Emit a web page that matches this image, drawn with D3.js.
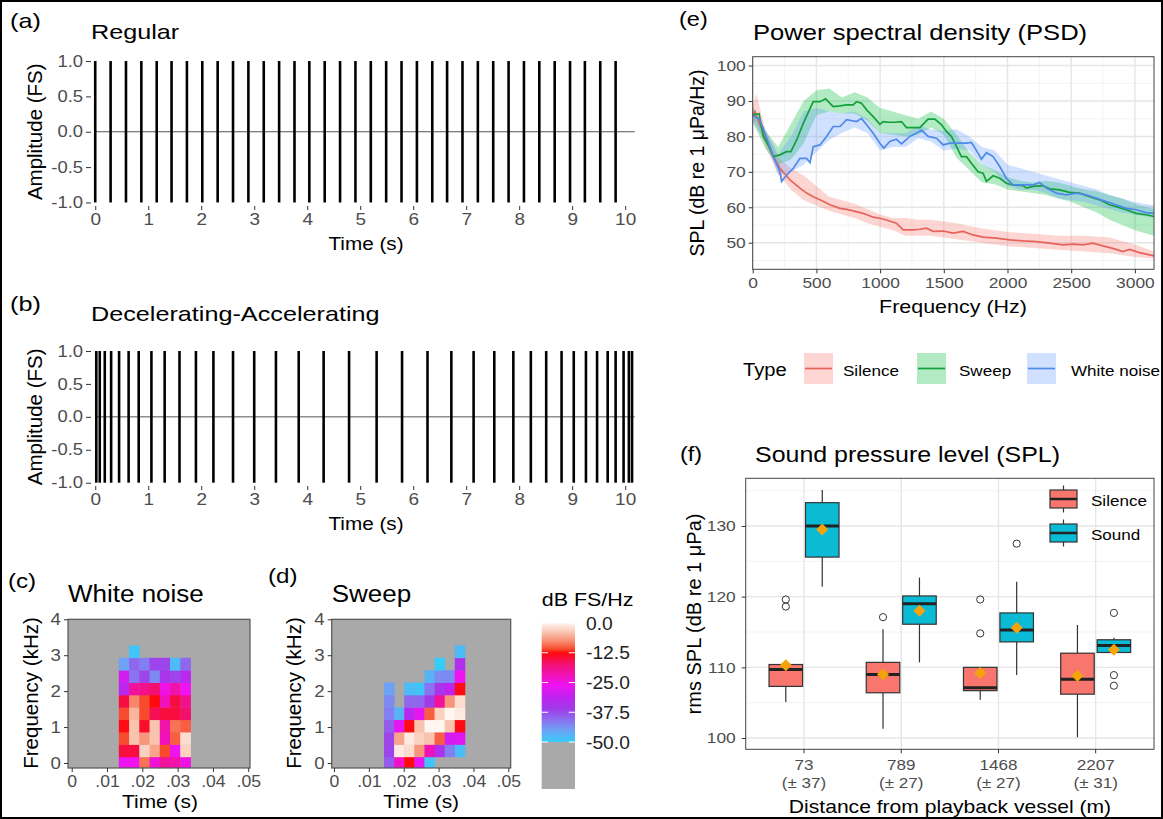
<!DOCTYPE html>
<html>
<head>
<meta charset="utf-8">
<script src="https://cdn.jsdelivr.net/npm/d3@7"></script>
<style>
  body { margin: 0; background: #fff; }
  svg { display: block; }
</style>
</head>
<body>
<svg id="fig" width="1163" height="819"></svg>
<script>
// ---------- (a), (b) pulse trains ----------
const timeTicks = [0, 1, 2, 3, 4, 5, 6, 7, 8, 9, 10];
const ampTicks = [-1, -0.5, 0, 0.5, 1];
const regularPulses = [0, 0.29, 0.58, 0.87, 1.16, 1.44, 1.73, 2.02, 2.31, 2.60, 2.89, 3.18,
  3.47, 3.76, 4.04, 4.33, 4.62, 4.91, 5.20, 5.49, 5.78, 6.07, 6.36, 6.64, 6.93, 7.22, 7.51,
  7.80, 8.09, 8.38, 8.67, 8.96, 9.24, 9.53, 9.82];
const decelAccelPulses = [0.02, 0.085, 0.18, 0.30, 0.45, 0.63, 0.82, 1.06, 1.31, 1.59, 1.90,
  2.23, 2.60, 3.00, 3.41, 3.84, 4.31, 4.79, 5.31, 5.79, 6.27, 6.72, 7.14, 7.53, 7.89, 8.22,
  8.51, 8.80, 9.03, 9.26, 9.47, 9.67, 9.82, 9.97, 10.07, 10.13];

// ---------- (c), (d) spectrograms ----------
const specTimeTicks = [0, 0.01, 0.02, 0.03, 0.04, 0.05];
const specTimeLabels = ["0", ".01", ".02", ".03", ".04", ".05"];
const specFreqTicks = [0, 1, 2, 3, 4];
const specFreqBins = [0, 0.345, 0.689, 1.034, 1.378, 1.723, 2.067, 2.412, 2.756, 3.101]; // kHz
const specBinHeight = 0.345;
const specBinWidth = 0.0029;
// levels per time column, bottom row first (dB FS/Hz, null = below -50)
const wnTimes = [0.0148, 0.0177, 0.0206, 0.0235, 0.0264, 0.0293, 0.0322];
const wnLevels = [
  [-26, -15, -11, -13, -11, -15, -32, -29, -45, null],
  [-26, -15, -4, -4, -5, -8, -20, -41, -40, -49],
  [-9, -3, -7, -14, -11, -11, -19, -37, -42, null],
  [-24, -6, -4, -4, -16, -12.5, -17, -43, -37, null],
  [-20, -11, -22, -21, -15, -22, -25, -35, -37, null],
  [-21, -26, -10, -9, -15, -15, -21, -37, -48, null],
  [-25, -3, -2, -10, -17, -19, -26, -32, -40, null]
];
const swTimes = [0.0158, 0.0187, 0.0216, 0.0245, 0.0274, 0.0303, 0.0332, 0.0361];
const swLevels = [
  [-39, -37, -37, -39, -42, -43, -45, null, null, null],
  [-23, -1, -6, -27, -47, null, null, null, null, null],
  [-12.5, -2, -1, -13, -32, -40, -48, null, null, null],
  [-27, -7, -3, -4, -27, -40, -49, null, null, null],
  [-49, -22, -4, 0, -10, -36, -41, -47, null, null],
  [null, -34, -10, 0, -3, -20, -35, -43, -50, null],
  [null, -42, -29, -4, 0, -7, -31, -43, null, null],
  [null, -48, -28, -13, -1, -2, -13, -26, -34, -48]
];
const dbStops = [0, -4, -8, -11, -12.5, -17, -22, -26, -31, -36, -41, -45, -50];
const dbColours = ["#fff6f2", "#f9c4ae", "#f8866a", "#f84a2c", "#ff0a0a", "#f3106c", "#f012b8",
  "#f012f0", "#c022f0", "#a23ae8", "#8a72f0", "#6ea2f4", "#36ccf8"];
const dbTicks = [0, -12.5, -25, -37.5, -50];

// ---------- (e) PSD ----------
const psdFreqTicks = [0, 500, 1000, 1500, 2000, 2500, 3000];
const psdLevelTicks = [50, 60, 70, 80, 90, 100];
const psdTypes = ["Silence", "Sweep", "White noise"];
const silenceFreq = [0, 18, 57, 110, 162, 214, 293, 371, 423, 475, 528, 606, 685, 737, 789, 867,
  946, 998, 1050, 1128, 1181, 1259, 1312, 1364, 1416, 1495, 1573, 1651, 1730, 1808, 1913, 2017,
  2122, 2226, 2331, 2435, 2514, 2592, 2670, 2749, 2827, 2906, 2958, 3036, 3150];
const silenceMean = [86, 87, 83.3, 79, 74.3, 71, 67.7, 65.4, 64, 63, 62.1, 60.7, 59.7, 59.4, 59,
  58.3, 57.2, 56.9, 56.4, 55.5, 53.6, 53.6, 53.8, 54.1, 53.2, 53.3, 52.7, 53.2, 52.2, 51.6, 51.3,
  50.8, 50.5, 50.3, 49.9, 49.4, 49.6, 49.4, 49.9, 49.1, 48.4, 47.5, 48.1, 47.2, 46.3];
const silenceBandFreq = [0, 30, 100, 200, 300, 400, 500, 600, 700, 800, 900, 1000, 1100, 1200,
  1300, 1400, 1500, 1600, 1800, 2000, 2200, 2400, 2600, 2800, 3000, 3150];
const silenceLo = [84, 84, 77, 69.5, 65, 62, 60.5, 59, 58, 57, 55.5, 54.5, 53.5, 52, 52, 52,
  51.5, 51, 50, 49, 48.5, 48, 47.5, 47, 46, 45.5];
const silenceHi = [89, 92, 81.5, 74, 71, 69, 66, 63, 62, 61, 59.5, 58, 57, 57, 56.5, 56.5, 56,
  55.5, 54, 53, 52.5, 52, 52, 51.5, 49.5, 47.5];

const sweepFreq = [0, 50, 84, 130, 162, 214, 266, 300, 345, 397, 475, 528, 572, 632, 685, 737,
  789, 815, 854, 894, 946, 998, 1024, 1063, 1115, 1168, 1207, 1259, 1312, 1377, 1430, 1482,
  1521, 1560, 1600, 1638, 1678, 1717, 1769, 1808, 1835, 1887, 1939, 1991, 2043, 2122, 2148,
  2200, 2278, 2331, 2409, 2487, 2566, 2644, 2723, 2801, 2853, 2932, 3010, 3089, 3150];
const sweepMean = [86.1, 86.4, 80, 77, 74.3, 74.8, 75.7, 75.7, 79, 83.7, 89.8, 89.8, 90.6, 88.4,
  88.6, 88.9, 88.9, 89.8, 89.4, 87.5, 85.6, 83.4, 84.2, 84, 84, 84.2, 82.5, 82.5, 82.5, 84.9,
  84.9, 83.3, 81.4, 80, 77.1, 74.3, 74.3, 72.4, 70, 69.6, 67.3, 68.9, 68.2, 66.8, 66.3, 66.1,
  65.4, 65.9, 66.1, 65.2, 64.9, 64.2, 64, 63, 62.1, 60.7, 60.2, 59.3, 58.3, 57.9, 57.4];
const bandFreq = [0, 100, 200, 300, 400, 500, 600, 700, 800, 900, 1000, 1100, 1200, 1300, 1400,
  1500, 1600, 1700, 1800, 1900, 2000, 2100, 2200, 2300, 2400, 2500, 2600, 2700, 2800, 2900,
  3000, 3150];
const sweepLo = [84, 76.5, 72, 73.5, 78, 86, 87, 86.5, 86.5, 84.5, 81, 80.5, 80, 80.5, 82.5,
  80.5, 74, 70.5, 67, 66.5, 65, 64.5, 64, 63.5, 62.5, 61.5, 60, 58.5, 56.5, 55, 53.5, 52];
const sweepHi = [88.5, 81.5, 77, 83.5, 90, 93, 93.5, 91, 92.5, 91, 88, 87, 86, 85, 87, 85, 80.5,
  75.5, 72, 70.5, 68.5, 67.5, 67, 67.5, 67, 66, 65, 64.5, 63.5, 62.5, 61, 59.5];

const noiseFreq = [0, 57, 110, 162, 214, 227, 266, 319, 371, 423, 450, 475, 528, 580, 632, 685,
  737, 815, 854, 894, 946, 998, 1029, 1076, 1128, 1168, 1233, 1285, 1325, 1377, 1443, 1495,
  1547, 1600, 1678, 1717, 1769, 1795, 1835, 1887, 1939, 1991, 2043, 2122, 2200, 2252, 2305,
  2383, 2461, 2540, 2618, 2696, 2775, 2853, 2932, 3010, 3089, 3150];
const noiseMean = [86, 84.7, 79.5, 74.3, 70, 67.3, 69.1, 71, 73.8, 73.8, 72.6, 77.1, 77.6, 80,
  82.8, 82.8, 84.7, 84.2, 85.1, 83.3, 80.9, 78.1, 76.7, 78.6, 79.2, 77.9, 80, 80.9, 81.8, 80,
  79.5, 77.6, 78.1, 78.1, 78.1, 78.3, 75.3, 73.6, 75.4, 74.3, 71.5, 68.2, 66.3, 66.3, 66.3, 67,
  65.4, 64, 63.5, 64, 63.5, 62.6, 61.6, 60.7, 59.7, 59.3, 58.5, 58.3];
const noiseLo = [84, 78.5, 69, 70, 72, 75.5, 79, 81, 82.5, 81, 76, 77, 77, 79.5, 78.5, 76, 76.5,
  76, 72, 70, 66, 65, 65, 64, 62.5, 62, 61.5, 60.5, 59.5, 58.5, 58, 57];
const noiseHi = [88, 82, 75, 80, 87, 88, 87, 86.5, 87, 85, 81, 81, 81, 83, 82, 81.5, 82, 80, 77,
  76, 72, 71, 70, 69, 68, 67, 66, 65, 63.5, 62.5, 61.5, 60.5];

// ---------- (f) SPL boxplots ----------
const distCats = ["73", "789", "1468", "2207"];
const distSd = ["(\u00b1 37)", "(\u00b1 27)", "(\u00b1 27)", "(\u00b1 31)"];
const splTicks = [100, 110, 120, 130];
const silenceLowW = [105.1, 101.3, 105.4, 100.1];
const silenceQ1 = [107.3, 106.4, 106.7, 106.2];
const silenceMed = [109.7, 109.0, 107.1, 108.3];
const silenceQ3 = [110.4, 110.7, 110.0, 112.0];
const silenceHighW = [110.4, 115.4, 110.0, 116.0];
const silenceAvg = [110.3, 109.0, 109.2, 108.8];
const silenceOut = [[118.6, 119.6], [117.1], [114.8, 119.6], []];
const soundLowW = [121.4, 110.7, 108.9, 112.1];
const soundQ1 = [125.6, 116.1, 113.6, 112.1];
const soundMed = [130.0, 119.0, 115.3, 113.1];
const soundQ3 = [133.3, 120.1, 117.7, 113.9];
const soundHighW = [135.1, 122.7, 122.1, 114.2];
const soundAvg = [129.5, 118.0, 115.6, 112.5];
const soundOut = [[], [], [127.5], [117.7, 108.9, 107.4]];

// ======================================================
const FONT = '"Liberation Sans", Arial, Helvetica, sans-serif';
const svg = d3.select("#fig").attr("font-family", FONT);

svg.append("rect")
  .attr("x", 1).attr("y", 1).attr("width", 1161).attr("height", 817)
  .attr("fill", "#fff").attr("stroke", "#000").attr("stroke-width", 2);

// the source figure is a little wider than tall, so horizontal text is stretched
function stretch(sel, sx) {
  sel.each(function () {
    const w = this.getComputedTextLength();
    if (w > 0) d3.select(this).attr("textLength", w * sx).attr("lengthAdjust", "spacingAndGlyphs");
  });
}

function addText(g, x, y, s, size, o = {}) {
  const t = g.append("text")
    .attr("x", x).attr("y", y)
    .attr("font-size", size)
    .attr("fill", o.fill || "#000")
    .text(s);
  if (o.anchor) t.attr("text-anchor", o.anchor);
  if (o.rotate) t.attr("transform", `rotate(-90,${x},${y})`);
  if (o.sx) stretch(t, o.sx);
  return t;
}

function tidyAxis(g, size, sx = 1.1) {
  g.attr("font-family", null).attr("font-size", null);
  g.select(".domain").remove();
  g.selectAll(".tick line").attr("stroke", "#333");
  g.selectAll(".tick text").attr("fill", "#4d4d4d").attr("font-size", size);
  if (sx !== 1) stretch(g.selectAll(".tick text"), sx);
}

const fmt1 = v => d3.format(".1f")(v).replace("\u2212", "-");

// ---------- pulse panels ----------
function pulsePanel(o) {
  const g = svg.append("g");
  const x = d3.scaleLinear().domain([-0.08, 10.18]).range([91, 634.7]);
  const y = d3.scaleLinear().domain([-1.05, 1.05]).range([o.bottom, o.top]);

  g.append("line")
    .attr("x1", x(0)).attr("x2", x(10.18))
    .attr("y1", y(0)).attr("y2", y(0))
    .attr("stroke", "#555").attr("stroke-width", 1);

  g.selectAll("line.pulse")
    .data(o.pulses)
    .join("line")
    .attr("class", "pulse")
    .attr("x1", d => x(d)).attr("x2", d => x(d))
    .attr("y1", y(-1)).attr("y2", y(1))
    .attr("stroke", "#000").attr("stroke-width", 2.6);

  g.append("g")
    .attr("transform", "translate(91,0)")
    .call(d3.axisLeft(y).tickValues(ampTicks).tickSize(5).tickPadding(3).tickFormat(fmt1))
    .call(tidyAxis, 16, 1.15);

  g.append("g")
    .attr("transform", `translate(0,${o.bottom})`)
    .call(d3.axisBottom(x).tickValues(timeTicks).tickSize(4).tickPadding(3).tickFormat(d3.format("d")))
    .call(tidyAxis, 16.5, 1.15);

  addText(g, 10, o.tagY, o.tag, 21, { sx: 1.2 });
  addText(g, 91, o.titleY, o.title, 21, { sx: 1.2 });
  addText(g, 366, o.xTitleY, "Time (s)", 18, { anchor: "middle", sx: 1.15 });
  addText(g, 42, (o.top + o.bottom) / 2, "Amplitude (FS)", 20.5, { anchor: "middle", rotate: true });
}

pulsePanel({ tag: "(a)", title: "Regular", pulses: regularPulses, top: 57.5, bottom: 206,
  tagY: 28, titleY: 39, xTitleY: 250 });
pulsePanel({ tag: "(b)", title: "Decelerating-Accelerating", pulses: decelAccelPulses, top: 347.7, bottom: 486,
  tagY: 311, titleY: 321, xTitleY: 530 });

// ---------- spectrogram panels ----------
const dbColour = d3.scaleLinear().domain(dbStops).range(dbColours)
  .interpolate(d3.interpolateRgb).clamp(true);

function specPanel(o) {
  const g = svg.append("g");
  const x = d3.scaleLinear().domain(o.xDomain).range(o.xRange);
  const y = d3.scaleLinear().domain([-0.14, 4]).range([768, 619.3]);
  const [x0, x1] = o.xRange;

  const clipId = "clip-" + o.tag.replace(/\W/g, "");
  g.append("clipPath").attr("id", clipId)
    .append("rect").attr("x", x0).attr("y", 619.3).attr("width", x1 - x0).attr("height", 768 - 619.3);

  g.append("rect")
    .attr("x", x0).attr("y", 619.3).attr("width", x1 - x0).attr("height", 768 - 619.3)
    .attr("fill", "#a9a9a9");

  const cells = [];
  o.times.forEach((t, i) => {
    o.levels[i].forEach((v, j) => {
      if (v !== null) cells.push({ t, f: specFreqBins[j], v });
    });
  });

  g.append("g").attr("clip-path", `url(#${clipId})`)
    .selectAll("rect")
    .data(cells)
    .join("rect")
    .attr("x", d => x(d.t - specBinWidth / 2))
    .attr("width", d => x(d.t + specBinWidth / 2) - x(d.t - specBinWidth / 2) + 0.4)
    .attr("y", d => y(d.f + specBinHeight / 2))
    .attr("height", d => y(d.f - specBinHeight / 2) - y(d.f + specBinHeight / 2) + 0.4)
    .attr("fill", d => dbColour(d.v));

  g.append("rect")
    .attr("x", x0).attr("y", 619.3).attr("width", x1 - x0).attr("height", 768 - 619.3)
    .attr("fill", "none").attr("stroke", "#555").attr("stroke-width", 1.2);

  g.append("g")
    .attr("transform", `translate(${x0},0)`)
    .call(d3.axisLeft(y).tickValues(specFreqTicks).tickSize(4).tickPadding(3).tickFormat(d3.format("d")))
    .call(tidyAxis, 17, 1.1);

  g.append("g")
    .attr("transform", "translate(0,768)")
    .call(d3.axisBottom(x).tickValues(specTimeTicks).tickSize(4).tickPadding(4)
      .tickFormat((d, i) => specTimeLabels[i]))
    .call(tidyAxis, 16, 1.1);

  addText(g, o.tagX, o.tagY, o.tag, 21, { sx: 1.15 });
  addText(g, x0, 602, o.title, 23, { sx: 1.13 });
  addText(g, (x(0) + x(0.05)) / 2, 808, "Time (s)", 19, { anchor: "middle", sx: 1.1 });
  addText(g, o.yTitleX, 693, "Frequency (kHz)", 20.5, { anchor: "middle", rotate: true });
}

specPanel({ tag: "(c)", title: "White noise", times: wnTimes, levels: wnLevels,
  xDomain: [-0.00105, 0.0505], xRange: [68, 250], tagX: 8, tagY: 588, yTitleX: 38 });
specPanel({ tag: "(d)", title: "Sweep", times: swTimes, levels: swLevels,
  xDomain: [-0.00066, 0.05069], xRange: [331.7, 510.7], tagX: 268, tagY: 583, yTitleX: 301 });

// colour bar
{
  const g = svg.append("g");
  const cb = d3.scaleLinear().domain([-50, 0]).range([742, 623]);
  const grad = svg.append("defs").append("linearGradient")
    .attr("id", "dbgrad").attr("x1", 0).attr("y1", 1).attr("x2", 0).attr("y2", 0);
  grad.selectAll("stop")
    .data(dbStops.slice().reverse())
    .join("stop")
    .attr("offset", d => (d + 50) / 50)
    .attr("stop-color", d => dbColour(d));

  g.append("rect").attr("x", 541.7).attr("y", 742).attr("width", 33.3).attr("height", 47)
    .attr("fill", "#a9a9a9");
  g.append("rect").attr("x", 541.7).attr("y", cb(0)).attr("width", 33.3).attr("height", cb(-50) - cb(0))
    .attr("fill", "url(#dbgrad)");

  g.selectAll("line.cbl").data(dbTicks).join("line").attr("class", "cbl")
    .attr("x1", 541.7).attr("x2", 548).attr("y1", d => cb(d)).attr("y2", d => cb(d))
    .attr("stroke", "#fff").attr("stroke-width", 1);
  g.selectAll("line.cbr").data(dbTicks).join("line").attr("class", "cbr")
    .attr("x1", 568.7).attr("x2", 575).attr("y1", d => cb(d)).attr("y2", d => cb(d))
    .attr("stroke", "#fff").attr("stroke-width", 1);

  const labels = g.selectAll("text.cbt").data(dbTicks).join("text").attr("class", "cbt")
    .attr("x", 586).attr("y", d => cb(d) + 6.5)
    .attr("font-size", 17.5).attr("fill", "#222")
    .text(fmt1);
  stretch(labels, 1.1);

  addText(g, 541.7, 606, "dB FS/Hz", 19, { sx: 1.13 });
}

// ---------- (e) PSD ----------
function gridLines(g, x, y, xMajor, xMinor, yMajor, yMinor) {
  const [x0, x1] = x.range();
  const [y0, y1] = y.range();
  g.selectAll("line.ym").data(yMinor).join("line").attr("class", "ym")
    .attr("x1", x0).attr("x2", x1).attr("y1", d => y(d)).attr("y2", d => y(d))
    .attr("stroke", "#f0f0f0").attr("stroke-width", 0.8);
  g.selectAll("line.xm").data(xMinor).join("line").attr("class", "xm")
    .attr("y1", y0).attr("y2", y1).attr("x1", d => x(d)).attr("x2", d => x(d))
    .attr("stroke", "#f0f0f0").attr("stroke-width", 0.8);
  g.selectAll("line.yM").data(yMajor).join("line").attr("class", "yM")
    .attr("x1", x0).attr("x2", x1).attr("y1", d => y(d)).attr("y2", d => y(d))
    .attr("stroke", "#e6e6e6").attr("stroke-width", 1.4);
  g.selectAll("line.xM").data(xMajor).join("line").attr("class", "xM")
    .attr("y1", y0).attr("y2", y1).attr("x1", d => x(d)).attr("x2", d => x(d))
    .attr("stroke", "#e6e6e6").attr("stroke-width", 1.4);
}

{
  const g = svg.append("g");
  const x = d3.scaleLinear().domain([0, 3150]).range([752.7, 1154]);
  const y = d3.scaleLinear().domain([42.5, 102.5]).range([269.3, 56.7]);
  const colours = { Silence: "#F8766D", Sweep: "#00BA38", "White noise": "#619CFF" };
  const lineColours = { Silence: "#e5635a", Sweep: "#13a03a", "White noise": "#4f8ae8" };

  gridLines(g, x, y, psdFreqTicks, psdFreqTicks.slice(0, -1).map(d => d + 250),
    psdLevelTicks, psdLevelTicks.map(d => d - 5));

  g.append("clipPath").attr("id", "clip-e")
    .append("rect").attr("x", 752.7).attr("y", 56.7).attr("width", 1154 - 752.7).attr("height", 269.3 - 56.7);
  const plot = g.append("g").attr("clip-path", "url(#clip-e)");

  const series = [
    { type: "Silence", freq: silenceFreq, mean: silenceMean, bf: silenceBandFreq, lo: silenceLo, hi: silenceHi },
    { type: "Sweep", freq: sweepFreq, mean: sweepMean, bf: bandFreq, lo: sweepLo, hi: sweepHi },
    { type: "White noise", freq: noiseFreq, mean: noiseMean, bf: bandFreq, lo: noiseLo, hi: noiseHi }
  ];

  const area = d3.area().x(d => x(d[0])).y0(d => y(d[1])).y1(d => y(d[2]));
  const line = d3.line().x(d => x(d[0])).y(d => y(d[1]));

  series.forEach(s => {
    plot.append("path")
      .datum(s.bf.map((f, i) => [f, s.lo[i], s.hi[i]]))
      .attr("d", area)
      .attr("fill", colours[s.type]).attr("fill-opacity", 0.3);
  });
  series.forEach(s => {
    plot.append("path")
      .datum(s.freq.map((f, i) => [f, s.mean[i]]))
      .attr("d", line)
      .attr("fill", "none").attr("stroke", lineColours[s.type]).attr("stroke-width", 1.7);
  });

  g.append("rect").attr("x", 752.7).attr("y", 56.7).attr("width", 1154 - 752.7).attr("height", 269.3 - 56.7)
    .attr("fill", "none").attr("stroke", "#444").attr("stroke-width", 1);

  g.append("g").attr("transform", "translate(752.7,0)")
    .call(d3.axisLeft(y).tickValues(psdLevelTicks).tickSize(4).tickPadding(3))
    .call(tidyAxis, 15.5, 1.12);
  g.append("g").attr("transform", "translate(0,269.3)")
    .call(d3.axisBottom(x).tickValues(psdFreqTicks).tickSize(4).tickPadding(4).tickFormat(d3.format("d")))
    .call(tidyAxis, 15.5, 1.12);

  addText(g, 679, 26, "(e)", 21, { sx: 1.12 });
  addText(g, 753, 40, "Power spectral density (PSD)", 21.5, { sx: 1.19 });
  addText(g, 953, 313, "Frequency (Hz)", 19, { anchor: "middle", sx: 1.13 });
  addText(g, 704, 163, "SPL (dB re 1 \u03bcPa/Hz)", 19.5, { anchor: "middle", rotate: true });

  // legend
  const keyX = [804, 917, 1027];
  const labelX = [843, 959, 1071];
  addText(g, 743, 376, "Type", 18, { sx: 1.12 });
  psdTypes.forEach((t, i) => {
    g.append("rect").attr("x", keyX[i]).attr("y", 353).attr("width", 29).attr("height", 31)
      .attr("fill", colours[t]).attr("fill-opacity", 0.3);
    g.append("line").attr("x1", keyX[i] + 1).attr("x2", keyX[i] + 28).attr("y1", 368.5).attr("y2", 368.5)
      .attr("stroke", lineColours[t]).attr("stroke-width", 1.7);
    addText(g, labelX[i], 376, t, 15.5, { sx: 1.1 });
  });
}

// ---------- (f) SPL ----------
{
  const g = svg.append("g");
  const x = d3.scaleBand().domain(distCats).range([745.7, 1154]).paddingInner(0).paddingOuter(0.1);
  const y = d3.scaleLinear().domain([98.4, 136.75]).range([749.3, 478.3]);
  const step = x.step();
  const cx = c => x(c) + x.bandwidth() / 2;

  // grid
  const yMinor = splTicks.map(d => d + 5);
  g.selectAll("line.ym").data(yMinor).join("line").attr("class", "ym")
    .attr("x1", 745.7).attr("x2", 1154).attr("y1", d => y(d)).attr("y2", d => y(d))
    .attr("stroke", "#f0f0f0").attr("stroke-width", 0.8);
  g.selectAll("line.yM").data(splTicks).join("line").attr("class", "yM")
    .attr("x1", 745.7).attr("x2", 1154).attr("y1", d => y(d)).attr("y2", d => y(d))
    .attr("stroke", "#e6e6e6").attr("stroke-width", 1.4);
  g.selectAll("line.xM").data(distCats).join("line").attr("class", "xM")
    .attr("x1", d => cx(d)).attr("x2", d => cx(d)).attr("y1", 478.3).attr("y2", 749.3)
    .attr("stroke", "#e6e6e6").attr("stroke-width", 1.4);

  const groups = [
    { name: "Silence", dx: -0.1875, fill: "#F8766D", lw: silenceLowW, q1: silenceQ1, med: silenceMed,
      q3: silenceQ3, hw: silenceHighW, avg: silenceAvg, out: silenceOut },
    { name: "Sound", dx: 0.1875, fill: "#0bbbd6", lw: soundLowW, q1: soundQ1, med: soundMed,
      q3: soundQ3, hw: soundHighW, avg: soundAvg, out: soundOut }
  ];
  const boxW = 0.345 * step;

  groups.forEach(gr => {
    distCats.forEach((c, i) => {
      const bx = cx(c) + gr.dx * step;
      g.append("line").attr("x1", bx).attr("x2", bx)
        .attr("y1", y(gr.hw[i])).attr("y2", y(gr.q3[i]))
        .attr("stroke", "#333").attr("stroke-width", 1.2);
      g.append("line").attr("x1", bx).attr("x2", bx)
        .attr("y1", y(gr.q1[i])).attr("y2", y(gr.lw[i]))
        .attr("stroke", "#333").attr("stroke-width", 1.2);
      g.append("rect")
        .attr("x", bx - boxW / 2).attr("width", boxW)
        .attr("y", y(gr.q3[i])).attr("height", y(gr.q1[i]) - y(gr.q3[i]))
        .attr("fill", gr.fill).attr("stroke", "#333").attr("stroke-width", 1.2);
      g.append("line").attr("x1", bx - boxW / 2).attr("x2", bx + boxW / 2)
        .attr("y1", y(gr.med[i])).attr("y2", y(gr.med[i]))
        .attr("stroke", "#222").attr("stroke-width", 3);
      g.selectAll(null).data(gr.out[i]).join("circle")
        .attr("cx", bx).attr("cy", d => y(d)).attr("r", 3.6)
        .attr("fill", "none").attr("stroke", "#333").attr("stroke-width", 1);
    });
  });
  groups.forEach(gr => {
    distCats.forEach((c, i) => {
      const bx = cx(c) + gr.dx * step;
      const my = y(gr.avg[i]);
      g.append("path")
        .attr("d", `M${bx},${my - 6}L${bx + 6},${my}L${bx},${my + 6}L${bx - 6},${my}Z`)
        .attr("fill", "#f5a30c");
    });
  });

  g.append("rect").attr("x", 745.7).attr("y", 478.3).attr("width", 1154 - 745.7).attr("height", 749.3 - 478.3)
    .attr("fill", "none").attr("stroke", "#444").attr("stroke-width", 1);

  g.append("g").attr("transform", "translate(745.7,0)")
    .call(d3.axisLeft(y).tickValues(splTicks).tickSize(4).tickPadding(6))
    .call(tidyAxis, 15.5, 1.12);

  const xa = g.append("g").attr("transform", "translate(0,749.3)")
    .call(d3.axisBottom(x).tickSize(4).tickPadding(6))
    .call(tidyAxis, 15.5, 1);
  xa.selectAll(".tick text").each(function (d, i) {
    const t = d3.select(this).text(null);
    t.append("tspan").attr("x", 0).text(d);
    t.append("tspan").attr("x", 0).attr("dy", "1.15em").text(distSd[i]);
  });
  stretch(xa.selectAll(".tick tspan"), 1.1);

  addText(g, 680, 461, "(f)", 21, { sx: 1.12 });
  addText(g, 755, 462, "Sound pressure level (SPL)", 21.5, { sx: 1.16 });
  addText(g, 950, 813, "Distance from playback vessel (m)", 19, { anchor: "middle", sx: 1.11 });
  addText(g, 701, 614, "rms SPL (dB re 1 \u03bcPa)", 20, { anchor: "middle", rotate: true });

  // legend
  const legY = [499, 533];
  groups.forEach((gr, i) => {
    const kx = 1063.5, ky = legY[i];
    g.append("line").attr("x1", kx).attr("x2", kx).attr("y1", ky - 13.5).attr("y2", ky + 13.5)
      .attr("stroke", "#333").attr("stroke-width", 1.2);
    g.append("rect").attr("x", kx - 13.5).attr("y", ky - 9).attr("width", 27).attr("height", 18)
      .attr("fill", gr.fill).attr("stroke", "#333").attr("stroke-width", 1.2);
    g.append("line").attr("x1", kx - 13.5).attr("x2", kx + 13.5).attr("y1", ky).attr("y2", ky)
      .attr("stroke", "#222").attr("stroke-width", 2.5);
    addText(g, 1091, ky + 7, gr.name, 15.5, { sx: 1.1 });
  });
}
</script>
</body>
</html>
